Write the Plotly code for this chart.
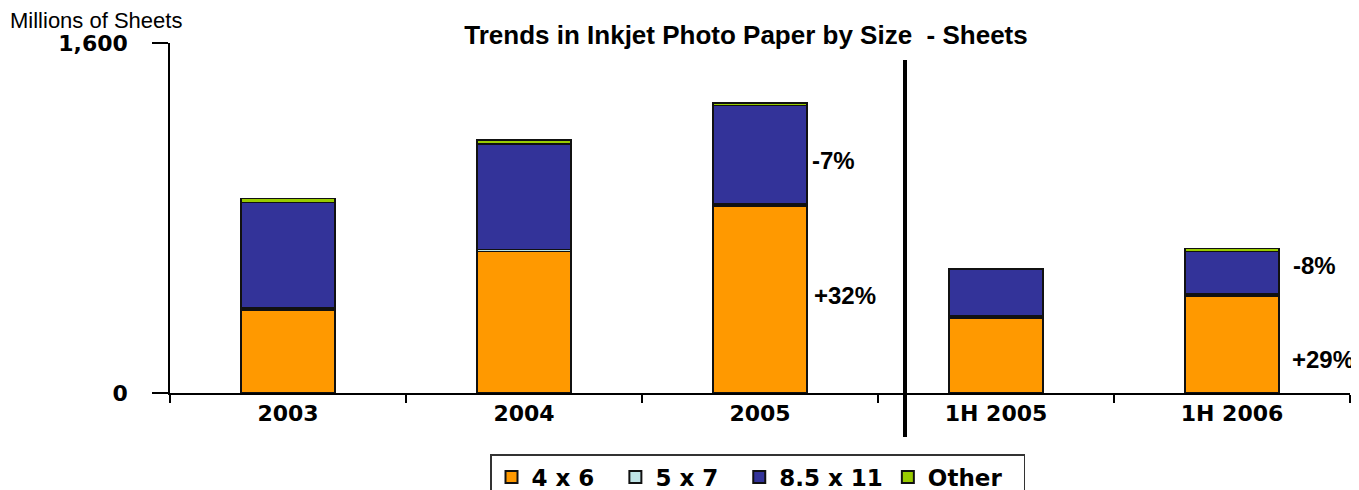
import plotly.graph_objects as go

categories = ["2003", "2004", "2005", "1H 2005", "1H 2006"]
size_4x6 = [380, 647, 855, 343, 443]
size_5x7 = [9, 9, 9, 8, 9]
size_85x11 = [482, 482, 450, 214, 196]
size_other = [18, 18, 12, 3, 12]

NB = "\u00a0"
series = [
    ("4 x 6" + NB * 2, size_4x6, "#FF9900"),
    ("5 x 7" + NB * 2, size_5x7, "#BFE4E6"),
    ("8.5 x 11", size_85x11, "#333399"),
    ("Other" + NB * 2, size_other, "#99CC00"),
]

# growth labels: (category index, value position, text)
growth_labels = [
    (2, 1065, "-7%"),
    (2, 448, "+32%"),
    (4, 585, "-8%"),
    (4, 151, "+29%"),
]
growth_offsets = [0.21, 0.22, 0.25, 0.245]

# page body has an 8px margin, so figure coords = screen coords - 8
OFF = 8
L, R, T, B = 170 - OFF, 17, 43 - OFF, 105
PW = 1359 - L - R
PH = 490 - T - B
Y0 = 393 - OFF  # screen y of value 0 in figure coords


def px_x(sx):
    return (sx - OFF - L) / PW


def px_y(sy):
    return (Y0 - (sy - OFF)) / PH


fig = go.Figure()
for name, vals, color in series:
    fig.add_trace(go.Bar(
        x=categories, y=vals, name=name,
        marker=dict(color=color, line=dict(color="#111111", width=1.5)),
        width=0.4,
    ))

fig.update_layout(
    barmode="stack",
    width=1359, height=490,
    margin=dict(l=L, r=R, t=T, b=B, autoexpand=False),
    plot_bgcolor="white", paper_bgcolor="white",
    title=dict(text="<b>Trends in Inkjet Photo Paper by Size  - Sheets</b>",
               xref="paper", x=px_x(746), xanchor="center",
               yref="container", y=1 - (35 - OFF) / 490, yanchor="middle",
               font=dict(family="Liberation Sans", size=26, color="black")),
    showlegend=True,
    legend=dict(orientation="h", x=px_x(490), xanchor="left",
                y=px_y(454), yanchor="top",
                bordercolor="#333333", borderwidth=1.5,
                font=dict(family="DejaVu Sans", size=23, color="black", weight="bold"),
                traceorder="normal", itemsizing="constant"),
    xaxis=dict(
        type="category", range=[-0.5, 4.5],
        showline=True, linecolor="black", linewidth=1.5,
        ticks="outside", tickson="boundaries", ticklen=8, tickcolor="black", tickwidth=1.5,
        tickfont=dict(family="DejaVu Sans", size=22, color="black", weight="bold"),
        showgrid=False,
    ),
    yaxis=dict(
        range=[0, 1600], tickvals=[0, 1600], ticktext=["0", "1,600"],
        showline=True, linecolor="black", linewidth=1.5,
        ticks="outside", ticklen=16, tickcolor="black", tickwidth=1.5,
        ticklabelstandoff=20,
        tickfont=dict(family="DejaVu Sans", size=22, color="black", weight="bold"),
        showgrid=True, gridcolor="black", gridwidth=1.2, zeroline=False,
    ),
)

for (idx, yv, txt), off in zip(growth_labels, growth_offsets):
    fig.add_annotation(x=idx + off, y=yv, text="<b>" + txt + "</b>", showarrow=False,
                       xanchor="left", yanchor="middle",
                       font=dict(family="Liberation Sans", size=24, color="black"))

fig.add_annotation(xref="paper", yref="paper", x=px_x(8), y=px_y(21),
                   xanchor="left", yanchor="middle",
                   text="Millions of Sheets", showarrow=False,
                   font=dict(family="Liberation Sans", size=22, color="black"))

fig.add_shape(type="line", xref="paper", yref="paper",
              x0=px_x(905), x1=px_x(905),
              y0=px_y(437), y1=px_y(60),
              line=dict(color="black", width=4))

fig.write_html("out.html")
